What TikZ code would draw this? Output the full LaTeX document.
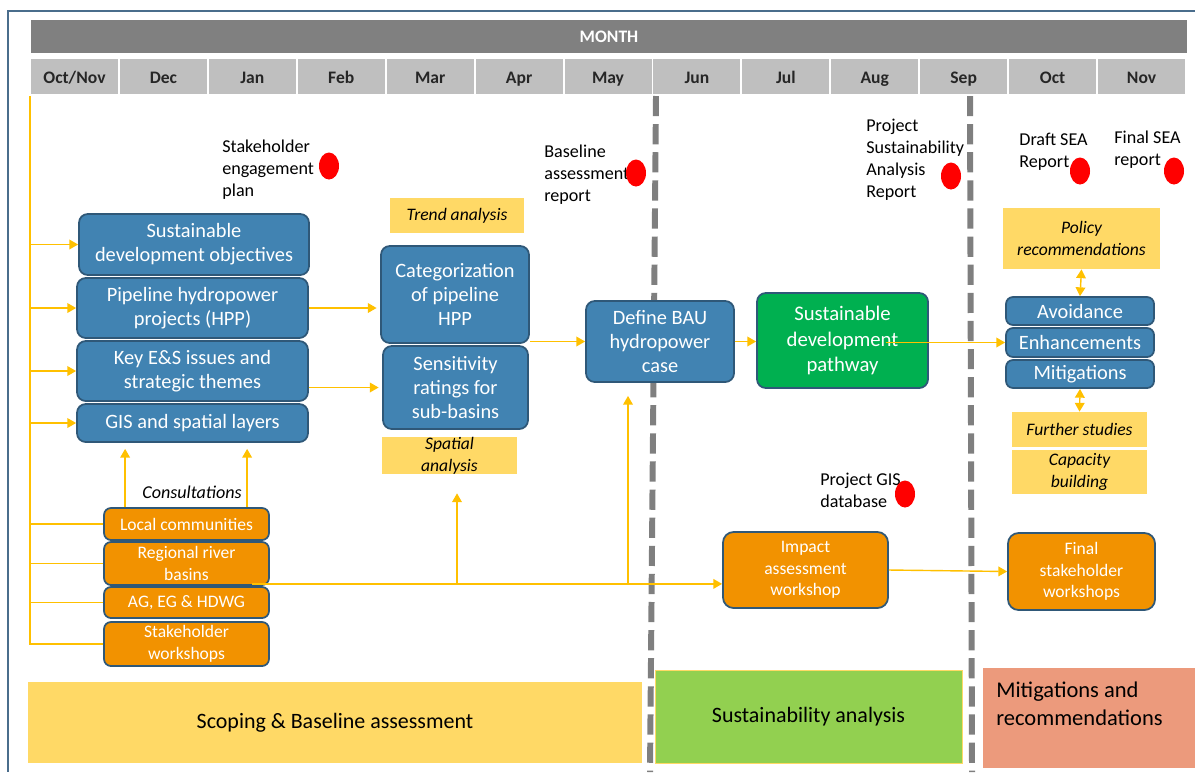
\documentclass[tikz,border=0pt]{standalone}
\usepackage{fontspec}
\setmainfont{Carlito}
\usepackage{tikz}
\usetikzlibrary{arrows.meta, positioning, shapes.geometric, calc}

\definecolor{hdrgray}{HTML}{808080}
\definecolor{cellgray}{HTML}{BFBFBF}
\definecolor{monthtext}{HTML}{262626}
\definecolor{boxblue}{HTML}{4183B2}
\definecolor{edgeblue}{HTML}{2F5878}
\definecolor{boxorange}{HTML}{F29200}
\definecolor{boxgreen}{HTML}{00B050}
\definecolor{notebg}{HTML}{FFD966}
\definecolor{flow}{HTML}{FFC000}
\definecolor{bandgreen}{HTML}{92D050}
\definecolor{bandsalmon}{HTML}{EC9A7C}
\definecolor{framecol}{HTML}{4A6D8C}
\definecolor{divgray}{HTML}{7F7F7F}

\newdimen\px \px=0.02cm

\begin{document}
\begin{tikzpicture}[x=0.02cm, y=-0.02cm, >={Triangle[length=5pt,width=5.5pt]},
    wh/.style 2 args={minimum width=#1\px, minimum height=#2\px, inner sep=0pt},
    bluebox/.style={draw=edgeblue, line width=1pt, fill=boxblue, rounded corners=5pt,
      text=white, align=center, font=\fontsize{11.6}{13.8}\selectfont},
    orangebox/.style={draw=edgeblue, line width=1pt, fill=boxorange, rounded corners=4pt,
      text=white, align=center, font=\fontsize{10}{12.2}\selectfont},
    notebox/.style={fill=notebg, align=center, font=\itshape\fontsize{10}{12.5}\selectfont},
    note/.style={anchor=west, align=left, inner sep=0pt, font=\fontsize{10.3}{12.5}\selectfont},
    dot/.style={ellipse, fill=red, minimum width=20\px, minimum height=27\px, inner sep=0pt},
    monthcell/.style={fill=cellgray, wh={87}{35}, text height=9pt, text depth=0.6pt,
      text=monthtext, font=\bfseries\fontsize{10}{12}\selectfont},
    band/.style={align=center, font=\fontsize{12.5}{15.9}\selectfont},
    flowline/.style={draw=flow, line width=0.8pt},
    divider/.style={draw=divgray, line width=3.4pt, dash pattern=on 11.5pt off 4.5pt}]

    \useasboundingbox (0,0) rectangle (1195,772);

    % frame and month header
    \draw[framecol, line width=1.2pt] (1195,11) -- (8,11) -- (8,772);
    \node[fill=hdrgray, wh={1156}{33}, text=white, font=\bfseries\fontsize{10}{12}\selectfont] (monthbar) at (609,36.5) {MONTH};
    \foreach \mon [count=\i from 0] in {Oct/Nov,Dec,Jan,Feb,Mar,Apr,May,Jun,Jul,Aug,Sep,Oct,Nov}
        \node[monthcell] (m\i) at (74.5+88.92*\i, 76.5) {\mon};

    % phase dividers
    \draw[divider] (656,96) -- (650,772);
    \draw[divider] (970,96) -- (972,772);

    % scoping column
    \node[bluebox, wh={230}{61}] (sdo) at (194,244.5) {Sustainable\\development objectives};
    \node[bluebox, wh={231}{60}] (hpp) at (192.5,308) {Pipeline hydropower\\projects (HPP)};
    \node[bluebox, wh={231}{60}] (key) at (192.5,371) {Key E\&S issues and\\strategic themes};
    \node[bluebox, wh={231}{38}] (gis) at (192.5,423) {GIS and spatial layers};

    \node[orangebox, wh={165}{32}] (local) at (186.5,524) {Local communities};
    \node[orangebox, wh={165}{43}] (regional) at (186.5,563.5) {Regional river\\basins};
    \node[orangebox, wh={165}{31}] (agh) at (186.5,602.5) {AG, EG \& HDWG};
    \node[orangebox, wh={165}{44}] (stkws) at (186.5,644) {Stakeholder\\workshops};
    \node[font=\itshape\fontsize{10.3}{12}\selectfont] (consult) at (192,492) {Consultations};

    \node[bluebox, wh={148}{97}] (cat) at (455,294.5) {Categorization\\of pipeline\\HPP};
    \node[bluebox, wh={145}{83}] (sens) at (455.5,387.5) {Sensitivity\\ratings for\\sub-basins};
    \node[notebox, wh={134}{35}] (trend) at (457,215.5) {Trend analysis};
    \node[notebox, wh={135}{35}] (spatial) at (449.5,455.5) {Spatial\\analysis};

    % analysis
    \node[bluebox, wh={148}{81}] (bau) at (660,341.5) {Define BAU\\hydropower\\case};
    \node[bluebox, fill=boxgreen, wh={171}{95}, font=\fontsize{11.8}{14.5}\selectfont] (sdp) at (842.5,340.5) {Sustainable\\development\\pathway};
    \node[orangebox, rounded corners=6pt, wh={165}{76}] (impact) at (805.5,570) {Impact\\assessment\\workshop};

    % recommendations
    \node[notebox, wh={157}{61}] (policy) at (1081.5,238.5) {Policy\\recommendations};
    \node[bluebox, rounded corners=4pt, wh={148}{28}] (avoid) at (1080,311) {Avoidance};
    \node[bluebox, rounded corners=4pt, wh={148}{29}] (enh) at (1080,342.5) {Enhancements};
    \node[bluebox, rounded corners=4pt, wh={148}{28}] (mitig) at (1080,374) {Mitigations};
    \node[notebox, wh={135}{35}] (further) at (1079.5,429.5) {Further studies};
    \node[notebox, wh={135}{44}] (capacity) at (1079.5,472) {Capacity\\building};
    \node[orangebox, rounded corners=6pt, wh={147}{77}] (finalws) at (1081.5,571.5) {Final\\stakeholder\\workshops};

    % deliverables
    \node[note] (sepnote) at (222,170) {Stakeholder\\engagement\\plan};
    \node[dot] (sepdot) at (329,166) {};
    \node[note] (banote) at (544,175) {Baseline\\assessment\\report};
    \node[dot] (badot) at (636,173) {};
    \node[note] (psanote) at (866,160) {Project\\Sustainability\\Analysis\\Report};
    \node[dot] (psadot) at (951,176) {};
    \node[note] (draftnote) at (1019,152) {Draft SEA\\Report};
    \node[dot] (draftdot) at (1080,171) {};
    \node[note] (finalnote) at (1114,150) {Final SEA\\report};
    \node[dot] (finaldot) at (1174,171) {};
    \node[note] (gisnote) at (820,490) {Project GIS\\database};
    \node[dot] (gisdot) at (905,494) {};

    % phase bands
    \node[band, fill=notebg, wh={614}{81}] (scoping) at (335,722.5) {Scoping \& Baseline assessment};
    \node[band, fill=bandgreen, draw=notebg, wh={307}{93}] (sustain) at (808.5,716.5) {Sustainability analysis};
    \node[band, fill=bandsalmon, wh={212}{100}] (mitband) at (1089,718) {};
    \node[note, font=\fontsize{12.8}{15.9}\selectfont] (mitlbl) at (996,704) {Mitigations and\\recommendations};

    % flows
    \coordinate (spinetop) at (30,96);
    \coordinate (spinebot) at (30,645);
    \draw[flowline] (spinetop) -- (spinebot);
    \foreach \b in {sdo,hpp,key,gis}
        \draw[flowline,->] (spinetop |- \b.west) -- (\b.west);
    \foreach \b in {local,regional,agh,stkws}
        \draw[flowline] (spinetop |- \b.west) -- (\b.west);

    \coordinate (consA) at ($(local.north west)+(22,0)$);
    \coordinate (consB) at ($(local.north west)+(144,0)$);
    \draw[flowline,->,shorten >=3.4pt] (consA) -- (consA |- gis.south);
    \draw[flowline,->,shorten >=3.4pt] (consB) -- (consB |- gis.south);

    \coordinate (busstart) at ($(regional.south east)+(-18,-2)$);
    \coordinate (tapA) at (457,583);
    \coordinate (tapB) at (628,583);
    \draw[flowline,->] (busstart) -- (busstart -| impact.west);
    \draw[flowline,->,shorten >=10.8pt] (tapA) -- (tapA |- spatial.south);
    \draw[flowline,->,shorten >=7.4pt] (tapB) -- (tapB |- bau.south);

    \draw[flowline,->,shorten >=2pt] (hpp.east) -- (hpp.east -| cat.west);
    \draw[flowline,->,shorten >=2pt] (key.east |- sens.west) -- (sens.west);
    \draw[flowline,->] (cat.east |- bau.west) -- (bau.west);
    \draw[flowline,->] (bau.east) -- (bau.east -| sdp.west);
    \coordinate (sdpmid) at ($(sdp.center)!0.5!(sdp.east)$);
    \draw[flowline,->] (sdpmid |- enh.west) -- (enh.west);
    \draw[flowline,<->] (policy.south) -- (avoid.north);
    \draw[flowline,<->] (mitig.south) -- (further.north);
    \draw[flowline,->] (impact.east) -- (finalws.west);

\end{tikzpicture}
\end{document}
